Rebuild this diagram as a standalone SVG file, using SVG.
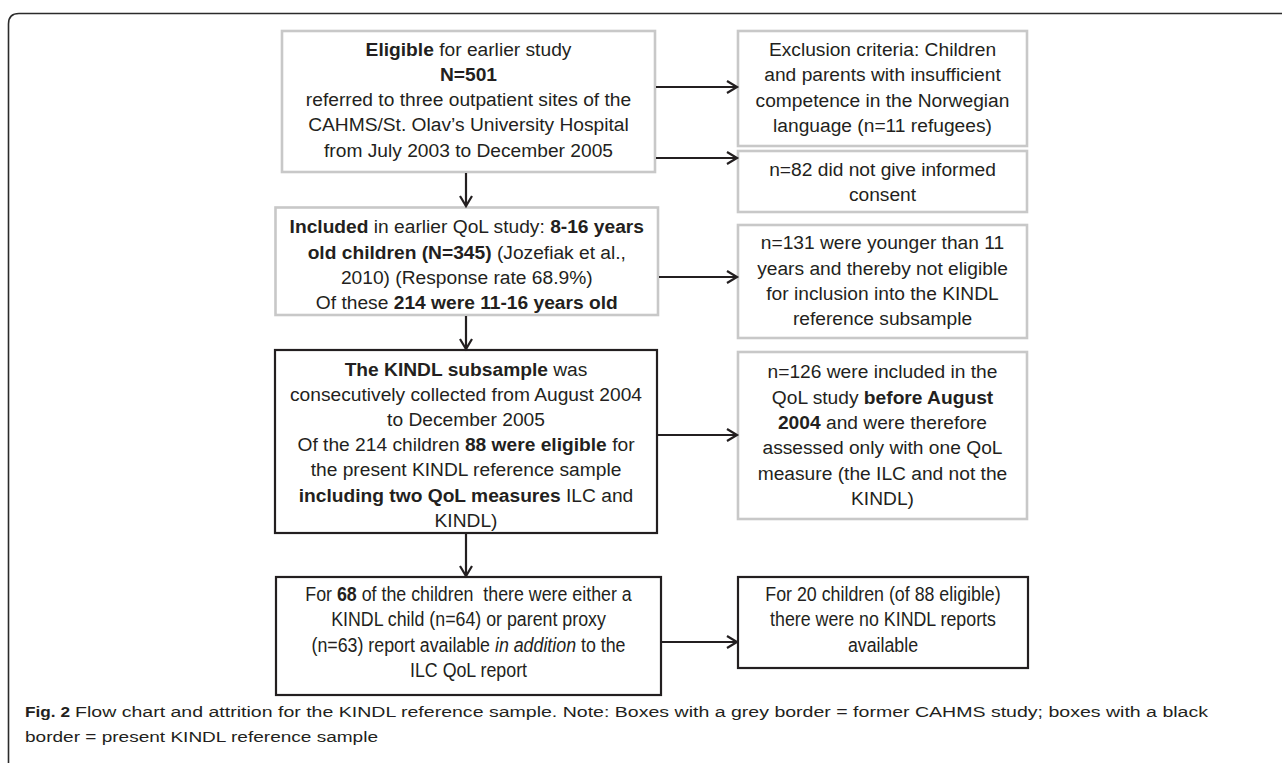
<svg xmlns="http://www.w3.org/2000/svg" width="1282" height="763" viewBox="0 0 1282 763">
<style>
.bg{fill:#fff}
.frame{fill:none;stroke:#2b2b2b;stroke-width:1.6}
.gbox{fill:#fff;stroke:#c8c8c8;stroke-width:2.6}
.kbox{fill:#fff;stroke:#231f20;stroke-width:2.2}
.t{font-family:"Liberation Sans",Arial,sans-serif;font-size:19.2px;fill:#231f20;text-anchor:middle}
.n{font-family:"Liberation Sans",Arial,sans-serif;font-size:20px;fill:#231f20;text-anchor:middle}
.b{font-weight:bold}
.i{font-style:italic}
.cap{font-family:"Liberation Sans",Arial,sans-serif;font-size:15.5px;fill:#231f20}
.conn line{stroke:#231f20;stroke-width:2.2;fill:none}
</style>
<defs>
<marker id="ah" markerWidth="14" markerHeight="14" refX="11" refY="7" orient="auto" markerUnits="userSpaceOnUse">
<path d="M1,1 L11,7 L1,13" fill="none" stroke="#231f20" stroke-width="2.2"/>
</marker>
</defs>
<rect class="bg" x="0" y="0" width="1282" height="763"/>
<path class="frame" d="M8.5,763 L8.5,24 Q8.5,13.5 19,13.5 L1282,13.5"/>

<g id="n_eligible">
<rect class="gbox" x="282" y="31" width="373" height="141"/>
<text class="t" x="468.5" y="55.5"><tspan class="b">Eligible</tspan> for earlier study</text>
<text class="t b" x="468.5" y="80.8">N=501</text>
<text class="t" x="468.5" y="106.1">referred to three outpatient sites of the</text>
<text class="t" x="468.5" y="131.4">CAHMS/St. Olav’s University Hospital</text>
<text class="t" x="468.5" y="156.7">from July 2003 to December 2005</text>
</g>

<g id="n_exclusion">
<rect class="gbox" x="738" y="31" width="289" height="115"/>
<text class="t" x="882.5" y="56">Exclusion criteria: Children</text>
<text class="t" x="882.5" y="81.3">and parents with insufficient</text>
<text class="t" x="882.5" y="106.6">competence in the Norwegian</text>
<text class="t" x="882.5" y="131.9">language (n=11 refugees)</text>
</g>

<g id="n_consent">
<rect class="gbox" x="738" y="151" width="289" height="61"/>
<text class="t" x="882.5" y="176">n=82 did not give informed</text>
<text class="t" x="882.5" y="201.3">consent</text>
</g>

<g id="n_included">
<rect class="gbox" x="275.5" y="207.5" width="382.5" height="107.5"/>
<text class="t" x="466.8" y="233.4"><tspan class="b">Included</tspan> in earlier QoL study: <tspan class="b">8-16 years</tspan></text>
<text class="t" x="466.8" y="258.7"><tspan class="b">old children (N=345)</tspan> (Jozefiak et al.,</text>
<text class="t" x="466.8" y="284">2010) (Response rate 68.9%)</text>
<text class="t" x="466.8" y="309.3">Of these <tspan class="b">214 were 11-16 years old</tspan></text>
</g>

<g id="n_younger">
<rect class="gbox" x="738" y="225" width="289" height="113"/>
<text class="t" x="882.5" y="249.3">n=131 were younger than 11</text>
<text class="t" x="882.5" y="274.6">years and thereby not eligible</text>
<text class="t" x="882.5" y="299.9">for inclusion into the KINDL</text>
<text class="t" x="882.5" y="325.2">reference subsample</text>
</g>

<g id="n_kindl">
<rect class="kbox" x="275" y="350" width="382" height="183"/>
<text class="t" x="466" y="375.5"><tspan class="b">The KINDL subsample</tspan> was</text>
<text class="t" x="466" y="400.7">consecutively collected from August 2004</text>
<text class="t" x="466" y="425.9">to December 2005</text>
<text class="t" x="466" y="451.1">Of the 214 children <tspan class="b">88 were eligible</tspan> for</text>
<text class="t" x="466" y="476.3">the present KINDL reference sample</text>
<text class="t" x="466" y="501.5"><tspan class="b">including two QoL measures</tspan> ILC and</text>
<text class="t" x="466" y="526.7">KINDL)</text>
</g>

<g id="n_before">
<rect class="gbox" x="738" y="352" width="289" height="167"/>
<text class="t" x="882.5" y="378.3">n=126 were included in the</text>
<text class="t" x="882.5" y="403.6">QoL study <tspan class="b">before August</tspan></text>
<text class="t" x="882.5" y="428.9"><tspan class="b">2004</tspan> and were therefore</text>
<text class="t" x="882.5" y="454.2">assessed only with one QoL</text>
<text class="t" x="882.5" y="479.5">measure (the ILC and not the</text>
<text class="t" x="882.5" y="504.8">KINDL)</text>
</g>

<g id="n_68">
<rect class="kbox" x="276" y="577" width="385" height="118"/>
<g transform="translate(468.5 0) scale(0.89 1)">
<text class="n" x="0" y="600.7">For <tspan class="b">68</tspan> of the children&#160; there were either a</text>
<text class="n" x="0" y="626.2">KINDL child (n=64) or parent proxy</text>
<text class="n" x="0" y="651.7">(n=63) report available <tspan class="i">in addition</tspan> to the</text>
<text class="n" x="0" y="677.2">ILC QoL report</text>
</g>
</g>

<g id="n_20">
<rect class="kbox" x="738" y="577" width="290" height="91"/>
<g transform="translate(883 0) scale(0.89 1)">
<text class="n" x="0" y="600.7">For 20 children (of 88 eligible)</text>
<text class="n" x="0" y="626.2">there were no KINDL reports</text>
<text class="n" x="0" y="651.7">available</text>
</g>
</g>

<g id="connectors" class="conn">
<line x1="656" y1="87" x2="737" y2="87" marker-end="url(#ah)"/>
<line x1="656" y1="158" x2="737" y2="158" marker-end="url(#ah)"/>
<line x1="466" y1="173" x2="466" y2="206" marker-end="url(#ah)"/>
<line x1="659" y1="277" x2="737" y2="277" marker-end="url(#ah)"/>
<line x1="466" y1="316" x2="466" y2="349" marker-end="url(#ah)"/>
<line x1="658" y1="435" x2="737" y2="435" marker-end="url(#ah)"/>
<line x1="466" y1="534" x2="466" y2="576" marker-end="url(#ah)"/>
<line x1="662" y1="642" x2="737" y2="642" marker-end="url(#ah)"/>
</g>

<g id="caption">
<text class="cap b" x="25" y="717" textLength="45" lengthAdjust="spacingAndGlyphs">Fig. 2</text>
<text class="cap" x="75" y="717" textLength="1133" lengthAdjust="spacingAndGlyphs">Flow chart and attrition for the KINDL reference sample. Note: Boxes with a grey border = former CAHMS study; boxes with a black</text>
<text class="cap" x="25" y="742" textLength="353" lengthAdjust="spacingAndGlyphs">border = present KINDL reference sample</text>
</g>
</svg>
